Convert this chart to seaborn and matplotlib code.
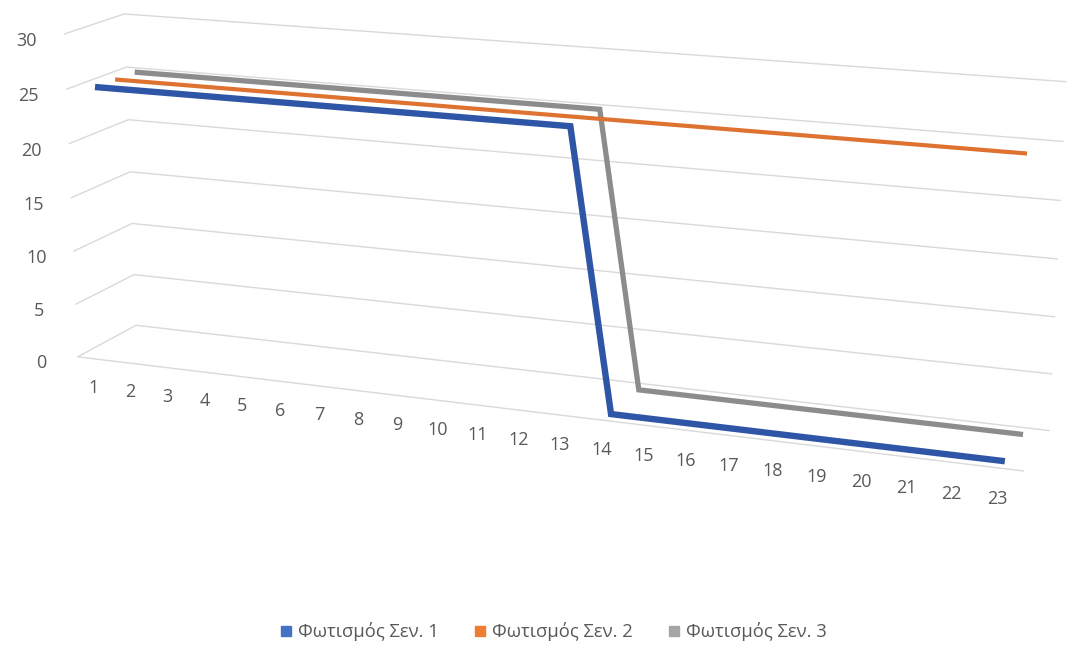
import matplotlib
matplotlib.use("Agg")
import matplotlib.pyplot as plt
from matplotlib.lines import Line2D
import seaborn as sns

# Hourly lighting load for three scenarios
hours = [1, 2, 3, 4, 5, 6, 7, 8, 9, 10, 11, 12,
         13, 14, 15, 16, 17, 18, 19, 20, 21, 22, 23]
scenario_1 = [25, 25, 25, 25, 25, 25, 25, 25, 25, 25, 25, 25,
              25, 0, 0, 0, 0, 0, 0, 0, 0, 0, 0]
scenario_2 = [25, 25, 25, 25, 25, 25, 25, 25, 25, 25, 25, 25,
              25, 25, 25, 25, 25, 25, 25, 25, 25, 25, 25]
scenario_3 = [25, 25, 25, 25, 25, 25, 25, 25, 25, 25, 25, 25,
              25, 0, 0, 0, 0, 0, 0, 0, 0, 0, 0]
series_names = ["Φωτισμός Σεν. 1", "Φωτισμός Σεν. 2", "Φωτισμός Σεν. 3"]
y_ticks = [0, 5, 10, 15, 20, 25, 30]

sns.set_theme(style="white")
plt.rcParams["font.family"] = ["Open Sans", "DejaVu Sans"]

legend_colors = sns.color_palette(["#4472C4", "#ED7D31", "#A5A5A5"])
line_colors = sns.color_palette(["#2F56A6", "#DE7230", "#8C8C8C"])
line_widths = [4.6, 3.0, 3.8]
text_color = "#595959"
grid_color = "#D9D9D9"

fig = plt.figure(figsize=(10.7, 6.45), dpi=100)
# oversized 3D axes so the box fills the figure width
ax = fig.add_axes([-0.389, -0.181, 1.768, 1.614], projection="3d")
ax.set_proj_type("persp", focal_length=0.5)
ax.view_init(elev=14.5, azim=-69)
ax.set_box_aspect((6.4, 0.8, 2.2))

series = [scenario_1, scenario_2, scenario_3]
for depth in (2, 1, 0):
    ax.plot(hours, [depth] * len(hours), series[depth],
            color=line_colors[depth], lw=line_widths[depth],
            solid_capstyle="butt", solid_joinstyle="miter", zorder=5 - depth)

ax.set_xlim(0.5, 23.5)
ax.set_ylim(-0.5, 2.5)
ax.set_zlim(0, 30)
ax.set_xticks(hours)
ax.set_xticklabels([str(h) for h in hours])
ax.set_yticks([])
ax.set_zticks(y_ticks)
ax.set_zticklabels([str(t) for t in y_ticks])
ax.zaxis.set_ticks_position("lower")

for axis in (ax.xaxis, ax.yaxis, ax.zaxis):
    axis.set_pane_color((1, 1, 1, 0))
    axis.pane.set_edgecolor((1, 1, 1, 0))
    axis._axinfo["tick"]["inward_factor"] = 0.0
    axis._axinfo["tick"]["outward_factor"] = 0.0
    axis._axinfo["grid"]["color"] = (1, 1, 1, 0)
ax.zaxis._axinfo["grid"]["color"] = grid_color
ax.zaxis._axinfo["grid"]["linewidth"] = 1.0
ax.grid(True)
ax.xaxis.line.set_color(grid_color)
ax.xaxis.line.set_linewidth(1.0)
ax.yaxis.line.set_color((1, 1, 1, 0))
ax.zaxis.line.set_color((1, 1, 1, 0))
ax.tick_params(axis="x", colors=text_color, labelsize=13, pad=14)
ax.tick_params(axis="z", colors=text_color, labelsize=13, pad=8)

handles = [Line2D([], [], marker="s", linestyle="none", markersize=7.5,
                  markerfacecolor=c, markeredgecolor=c) for c in legend_colors]
fig.legend(handles, series_names, loc="lower center", ncol=3,
           bbox_to_anchor=(0.517, -0.02), frameon=False, fontsize=13.3,
           labelcolor=text_color, handlelength=0.7, handletextpad=0.3,
           columnspacing=1.9)

fig.savefig("out.png", dpi=100, facecolor="white")
